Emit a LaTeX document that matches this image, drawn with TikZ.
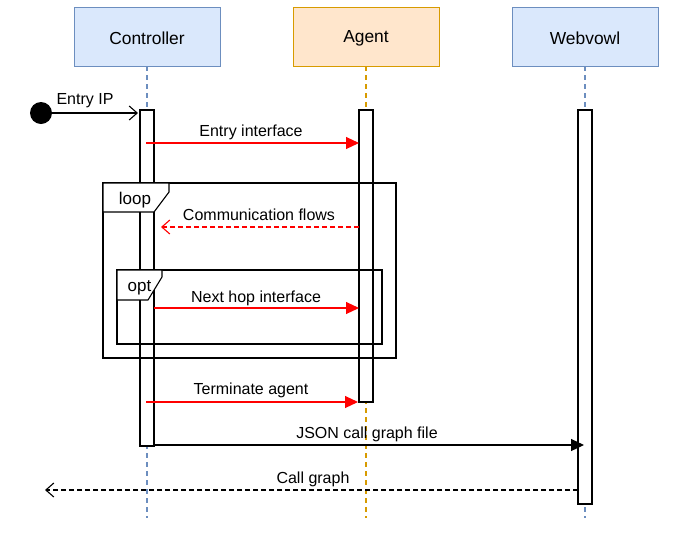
\documentclass[tikz,border=0pt]{standalone}
\usepackage{fontspec}
\setmainfont{Liberation Sans}
\usetikzlibrary{arrows.meta}
\definecolor{ctrlfill}{HTML}{DAE8FC}
\definecolor{ctrlline}{HTML}{6C8EBF}
\definecolor{agfill}{HTML}{FFE6CC}
\definecolor{agline}{HTML}{D79B00}
\definecolor{msgred}{HTML}{FF0000}
\tikzset{
  head/.style={draw, line width=0.9pt, minimum width=146pt, minimum height=59pt, inner sep=0pt},
  headtxt/.style={font=\fontsize{17.4}{20}\selectfont, inner sep=0pt},
  act/.style={draw, line width=1.1pt, fill=white, minimum width=14pt, inner sep=0pt},
  life/.style={line width=1.1pt, dash pattern=on 5pt off 4pt},
  lbl/.style={font=\fontsize{16}{19}\selectfont, inner sep=0pt},
  frm/.style={draw, line width=1.1pt},
  tablbl/.style={font=\fontsize{17}{20}\selectfont, inner sep=0pt},
  redmsg/.style={draw=msgred, line width=1.1pt, -{Triangle[length=13pt,width=12pt,fill=msgred]}},
  openhead/.style={-{Straight Barb[length=8pt,width=14pt,line width=1.1pt]}},
}
\begin{document}
\begin{tikzpicture}[x=1pt,y=-1pt]
\useasboundingbox (0,0) rectangle (685,539);
% headers
\node[head, fill=ctrlfill, draw=ctrlline] (ctrl) at (147,36.5) {};
\node[head, fill=agfill, draw=agline] (agent) at (366,36.5) {};
\node[head, fill=ctrlfill, draw=ctrlline] (web) at (585,36.5) {};
\node[headtxt] (ctrltxt) at (147,38.5) {Controller};
\node[headtxt] (agenttxt) at (366,38.5) {Agent};
\node[headtxt] (webtxt) at (585,38.5) {Webvowl};
% lifelines
\coordinate (ctrlend) at (147,518);
\coordinate (agentend) at (366,518);
\coordinate (webend) at (585,518);
\draw[life, draw=ctrlline] (ctrl.south) -- (ctrlend);
\draw[life, draw=agline] (agent.south) -- (agentend);
\draw[life, draw=ctrlline] (web.south) -- (webend);
% activations
\node[act, minimum height=336pt] (ca) at (147,278) {};
\node[act, minimum height=292pt] (aa) at (366,256) {};
% frames
\draw[frm] (103,183) rectangle (396,358);
\draw[frm, fill=white] (103,183) -- (169,183) -- (169,192) -- (154,212) -- (103,212) -- cycle;
\node[tablbl] (looplbl) at (135,200) {loop};
% redraw activation over loop frame inside
\draw[line width=1.1pt] (140,212) -- (140,446) (154,212) -- (154,446);
\draw[frm] (117,270) rectangle (382,344);
\draw[frm, fill=white] (117,270) -- (162,270) -- (162,277) -- (148,300) -- (117,300) -- cycle;
\node[tablbl] (optlbl) at (139.5,288) {opt};
\draw[line width=1.1pt] (140,300) -- (140,344) (154,300) -- (154,344);
\node[act, minimum height=394pt] (wa) at (585,307) {};
% Entry IP
\node[circle, fill=black, minimum size=22pt, inner sep=0pt] (start) at (41,113) {};
\coordinate (caentry) at (138,113);
\draw[line width=1.1pt, openhead] (start.center) -- (caentry);
\node[lbl] (entrylbl) at (85,101) {Entry IP};
% Entry interface
\coordinate (m1s) at (146,143);
\coordinate (m1e) at (359,143);
\draw[redmsg] (m1s) -- (m1e);
\node[lbl] (m1l) at (251,132) {Entry interface};
% Communication flows
\coordinate (m2s) at (359,227);
\coordinate (m2e) at (161,227);
\draw[draw=msgred, line width=1.1pt, dash pattern=on 5pt off 3pt, -{Straight Barb[length=8pt,width=14pt,line width=1.1pt,color=msgred]}] (m2s) -- (m2e);
\node[lbl] (m2l) at (259,215) {Communication flows};
% Next hop interface
\coordinate (m3s) at (154,308);
\coordinate (m3e) at (359,308);
\draw[redmsg] (m3s) -- (m3e);
\node[lbl] (m3l) at (256,298) {Next hop interface};
% Terminate agent
\coordinate (m4s) at (146,402);
\coordinate (m4e) at (358,402);
\draw[redmsg] (m4s) -- (m4e);
\node[lbl] (m4l) at (251,390) {Terminate agent};
% JSON call graph file
\coordinate (m5s) at (154,445);
\coordinate (m5e) at (584,445);
\draw[line width=1.1pt, -{Triangle[length=13pt,width=12pt]}] (m5s) -- (m5e);
\node[lbl] (m5l) at (367,434) {JSON call graph file};
% Call graph
\coordinate (m6s) at (578,490);
\coordinate (m6e) at (45,490);
\draw[line width=1.1pt, dash pattern=on 5pt off 3pt, openhead] (m6s) -- (m6e);
\node[lbl] (m6l) at (313,479) {Call graph};
\end{tikzpicture}
\end{document}
